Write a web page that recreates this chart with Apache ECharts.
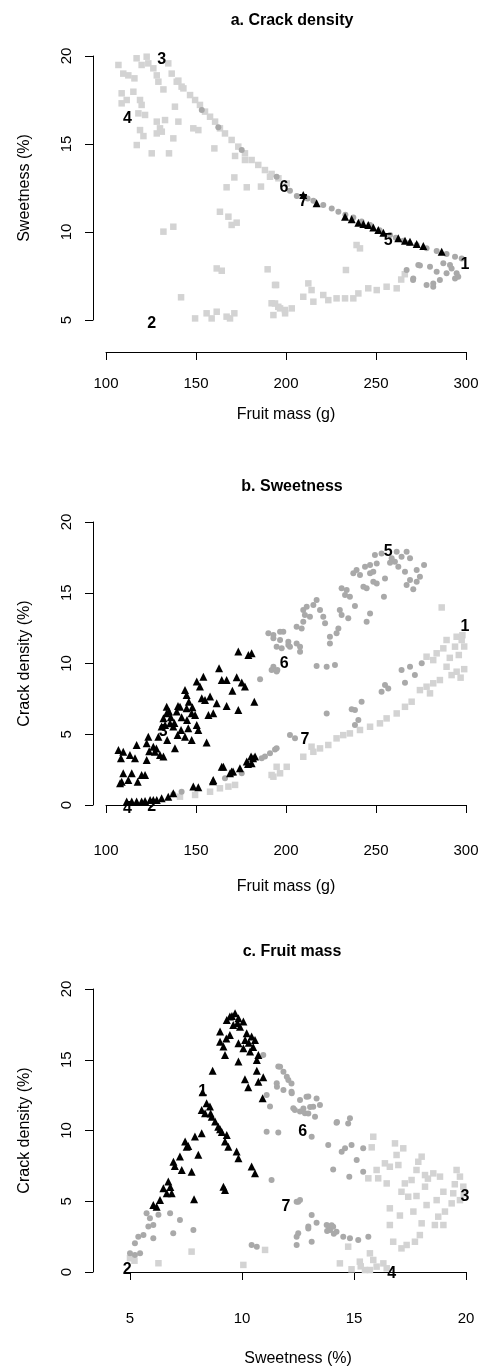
<!DOCTYPE html>
<html><head><meta charset="utf-8">
<script src="https://cdn.jsdelivr.net/npm/echarts@6/dist/echarts.min.js"></script>
<style>html,body{margin:0;padding:0;background:#fff}#c{width:481px;height:1366px}</style>
</head><body><div id="c"></div>
<script>
// ---------- Panel a: Sweetness (%) vs Fruit mass (g) ----------
const aSquares = [[106.9,19.49],[109.6,19.0],[112.4,18.9],[115.8,18.73],[117,19.87],[119.8,19.49],[122.6,19.96],[123.5,19.58],[126.3,19.3],[128.2,18.9],[129.1,18.54],[131.9,18.1],[134.6,19.58],[136.5,19.0],[140.2,18.6],[142,18.26],
[108.7,17.88],[111.5,17.5],[108.7,17.31],[115.2,17.97],[118.9,17.5],[119.8,17.22],[118,16.74],[121.7,16.65],[118.9,15.79],[120.8,15.45],[117.1,14.94],[128.2,16.27],[132.8,16.36],[130,15.89],[128.2,15.6],[131,15.7],[138.3,17.12],[140.2,16.27],[137.4,15.32],[148.5,15.89],[151.3,15.79],[125.4,14.47],[135,14.47],[160.2,14.75],[171.7,14.32],[177.2,14.09],[171.3,13.1],[167,12.54],[178.2,12.54],[186.1,12.58],[163.3,11.15],[168,10.87],[169.8,10.4],[172.6,10.53],[131.9,10.02],[137.4,10.3],[161.5,7.93],[164.3,7.8],[189.8,7.88],[194.5,6.99],[141.7,6.29],[149.5,5.09],[155.9,5.38],[158.7,5.09],[161.5,5.47],[167,5.19],[168.9,5.09],[171.3,5.38],[192,5.95],[193,5.28],[196.7,5.66],[199.5,5.38],[203.2,5.66],
[139.3,18.54],[143,18.16],[146.7,17.78],[149.5,17.5],[152.2,17.22],[155,16.84],[157.8,16.55],[160.6,16.27],[163.3,15.89],[166.1,15.6],[169.8,15.23],[173.5,14.85],[177.2,14.47],[180.9,14.09],[184.6,13.81],[188.3,13.52],[192,13.3],[195.8,13.05],[200.4,12.76],[191.1,13.14],
[193.9,6.99],[212.4,7.08],[214.2,6.7],[209.6,6.32],[215.2,6.04],[220.7,6.42],[223.5,6.13],[228.1,6.23],[232.8,6.23],[237.4,6.23],[240.2,6.51],[245.7,6.8],[250.4,6.7],[255.9,6.89],[261.5,6.8],[195.7,5.75],[199.4,5.57],[193.9,5.94],[239.2,9.26],[241.1,9.07],[233.3,7.84],[266,7.6],[264,7.3]];
const aCircles = [[153.2,16.93],[162.4,15.95],[175.4,14.66],[194.8,13.14],
[202.2,12.35],[206,12.05],[212,11.9],[215.2,11.78],[220.7,11.53],[225.4,11.34],[229.1,11.15],[233,10.98],[237.4,10.83],[242,10.6],[246.7,10.4],[252,10.1],[257.8,9.83],[261,9.68],[265.2,9.5],[268.5,9.38],[272.6,9.26],[278.1,9.07],[283.7,8.92],[289.2,8.75],[293.9,8.6],[297.6,8.5],
[273.5,8.12],[280,8.03],[267,7.84],[270.7,7.36],[278.1,6.99],[281.8,7.08],[285.5,7.27],[289.2,7.65],[292,7.93],[294.8,7.65],[293.9,7.36],[287.4,8.22],[283.7,7.74],[291.1,8.12],[281.8,6.89],[295.7,7.46],[270.6,7.27],[274.4,8.1]];
const aTriangles = [[209.6,12.1],[217,11.63],[232.8,10.87],[236.5,10.72],[240.2,10.53],[243,10.45],[245.7,10.4],[248.5,10.26],[251.3,10.11],[254.1,9.96],[262.4,9.64],[266.1,9.5],[268.9,9.45],[272.6,9.32],[276.3,9.2],[286.5,8.88]];
const aLabels = [["1",299.4,8.12],["2",125.4,4.81],["3",130.9,19.77],["4",111.9,16.46],["5",256.8,9.54],["6",198.9,12.54],["7",209.6,11.72]];

// ---------- Panel b: Crack density (%) vs Fruit mass (g) ----------
const bSquares = [[286.5,13.96],[294.8,11.89],[297.6,11.66],[289.2,11.66],[293.9,11.19],[287.4,11.07],[283.7,10.72],[278.1,10.48],[281.8,10.24],[289.2,9.77],[294.8,9.42],[292,9.18],[285.5,8.83],[281.8,8.6],[278.1,8.36],[280,7.89],[274.4,8.12],[269.8,7.3],[266.1,6.94],[261.5,6.47],[255.9,6.12],[252.2,5.77],[246.7,5.53],[241.1,5.3],[235.5,5.06],[231.8,4.94],[228.1,4.71],[223.5,4.24],[218.9,4.0],[214.2,4.12],[215.2,3.76],[209.6,3.41],[200.4,2.7],[194.8,2.7],[192,2.12],[196.7,2.24],[193,2.0],[171.7,1.42],[168,1.3],[163.3,1.18],[157.8,0.94],[149.5,0.71],[141.1,0.59],
[298,12.0],[299,11.2],[296,10.6],[291,10.4],[299,9.6],[297,9.0]];
const bCircles = [[249.4,17.66],[253.1,17.78],[261.5,17.9],[267,17.9],[264.2,17.55],[268.9,17.43],[258.7,17.43],[260.5,17.19],[257.8,17.12],[262.4,16.84],[266.1,16.49],[272.6,16.6],[276.7,16.96],[274.4,16.13],[268.9,15.9],[272.6,15.78],[267,15.54],[270.7,15.24],[255,16.01],[250.4,15.66],[248.5,15.78],[244.8,15.31],[243,15.43],[246.7,16.37],[250.4,17.07],[246.7,16.96],[243.9,16.84],[239.2,16.6],[237.4,16.37],[241.1,16.25],[248.5,16.49],[230.9,15.31],[233.7,15.19],[235.5,14.72],[232.8,14.84],[254.4,14.72],[246.7,13.54],[244.8,12.95],[238.3,14.06],[217,14.48],[215.2,14.13],[211.5,14.01],[209.6,13.78],[218.9,13.78],[220.7,13.3],[221.7,12.84],[213.3,13.3],[210.5,13.42],[209.6,12.95],[205.9,12.6],[208.7,12.48],[229.9,13.78],[230.9,13.42],[234.6,13.19],[229.1,12.48],[228.1,12.13],[224.4,11.89],[224.4,11.42],[198.5,12.25],[193,12.01],[196.7,11.66],[201.3,11.54],[205.9,11.42],[207.8,11.19],[202.2,11.19],[194.8,11.19],[207.8,10.83],[217,9.82],[222.6,9.77],[227.2,9.89],[195.2,9.54],[193,9.77],[190.2,12.13],[193,11.78],[196.7,12.25],[201.3,11.31],[197.6,11.07],[185.6,8.88],[192,9.54],[194.8,9.43],
[275.4,10.01],[268.9,9.77],[264.2,9.54],[271.6,9.18],[266.1,8.64],[255,8.48],[253.1,8.01],[256.8,8.24],[242,7.3],[236.5,6.76],[238.3,6.71],[222.6,6.47],[240.2,6.0],[238.3,5.65],[202.2,4.94],[205,4.71],[193.9,3.93],[191.1,3.65],[194.8,4.01],[188.3,3.42],[186.5,3.3],[166.1,1.89],[175.4,2.24],[137.4,0.76],[142,0.94]];
const bTriangles = [[173.5,10.84],[179.1,10.6],[180.9,10.72],[162.8,9.66],[154.1,9.07],[150.4,8.72],[164.3,8.84],[167,8.84],[172.6,9.02],[175.4,8.65],[177.2,8.37],[170.2,8.08],[182.4,7.3],[143.9,8.13],[144.8,7.78],[152.2,8.37],[153.2,7.54],[155,7.42],[157.8,7.66],[161.5,7.19],[167,7.0],[173.5,6.72],[159.6,6.48],[156.9,6.36],[149.5,6.36],[147.6,6.48],[144.8,6.83],[141.1,6.95],[139.3,6.6],[133.7,6.95],[133.7,6.48],[131.9,6.13],[135.6,5.77],[130.9,5.54],[132.8,5.66],[129.1,4.83],[137.4,5.54],[141.7,5.3],[145.7,5.42],[150.4,5.66],[151.3,5.3],[139.8,4.95],[143.9,4.83],[147.6,4.6],[155.9,4.41],[138.3,4.01],[123.5,4.83],[122.6,4.36],[117,4.24],[126.3,4.12],[127.2,3.77],[130,3.54],[131.9,3.42],[113.3,3.54],[116.1,3.3],[106.9,3.89],[109.6,3.77],[108.3,3.3],[122.6,3.18],[114.3,2.24],[109.6,2.24],[119.8,2.12],[121.7,2.12],[112.4,1.77],[108.7,1.65],[117.6,1.65],[107.8,1.53],
[136,6.2],[140,7.0],[146,7.3],[148,6.9],[135,6.6],[142,6.2],[145,6.0],[138,5.8],[128,4.0],[124,3.8],[134,4.6],
[180.6,3.42],[182.8,3.42],[178.2,3.07],[180.9,2.95],[165.2,2.71],[169.8,2.36],[174.4,2.59],[168.9,2.24],[159.6,1.77],[148.5,1.3],[151.3,1.25],[137.4,0.83],[134.6,0.59],[130.9,0.47],[128.2,0.36],[111.5,0.24],[114.3,0.24],[117,0.24],[119.8,0.24],[121.7,0.28],[124.5,0.36],[126.3,0.36],[164.3,2.71],[170.6,2.36],[178.9,2.9],[181.7,3.3],[159.4,1.67]];
const bLabels = [["1",299.4,12.6],["2",125.4,-0.12],["3",131.8,5.16],["4",111.9,-0.23],["5",256.8,17.9],["6",199,10.0],["7",210.5,4.64]];

// ---------- Panel c: Crack density (%) vs Sweetness (%) ----------
const cSquares = [[5.0,0.97],[6.27,0.62],[7.75,1.44],[11.03,1.56],[10.06,0.5],[15.86,9.56],[15.79,8.81],[16.83,9.09],[17.2,8.74],[16.9,8.27],[18.02,8.15],[17.87,7.79],[16.38,7.68],[16.6,7.44],[16.98,7.56],[16.01,7.21],[15.64,6.62],[16.08,6.62],[16.46,6.26],[17.27,6.26],[17.57,6.5],[17.79,7.21],[18.17,6.85],[18.54,6.97],[18.84,6.74],[19.58,7.21],[19.73,6.74],[19.88,6.03],[19.43,5.56],[19.73,5.08],[19.36,4.85],[19.06,4.27],[18.76,3.91],[18.61,3.32],[18.99,3.32],[18.17,6.03],[17.12,5.67],[17.42,5.32],[17.79,5.37],[18.24,4.73],[18.69,5.08],[18.99,5.67],[16.6,4.5],[17.05,3.99],[17.65,4.27],[18.02,3.44],[16.6,3.32],[17.94,2.61],[17.72,2.14],[17.35,1.91],[17.12,1.67],[16.75,2.14],[14.74,1.79],[14.37,0.61],[14.89,0.19],[15.26,0.73],[15.71,1.32],[15.86,0.85],[16.01,0.38],[15.71,0.14],[15.49,0.14],[16.31,0.61],[16.46,0.26],[19.5,6.2],[19.9,5.5],[18.3,6.6],[15.3,0.4],[5.2,0.8]];
const cCircles = [[10.95,15.34],[11.62,14.52],[11.85,14.16],[12.07,13.57],[11.55,13.34],[11.85,12.87],[12.22,12.63],[11.1,12.51],[11.25,11.69],[12.29,11.57],[12.59,11.34],[12.81,11.22],[12.96,12.4],[11.1,9.92],[11.62,9.85],[11.32,6.51],[12.44,4.97],[12.59,5.09],[12.44,2.5],[12.44,1.91],[12.96,3.21],[5.74,4.15],[5.89,3.8],[6.27,4.04],[6.79,4.15],[6.04,3.33],[5.82,3.21],[7.23,3.68],[6.93,2.74],[7.83,2.97],[5.37,2.5],[5.22,2.03],[5.6,2.62],[6.04,2.38],[5.0,1.32],[5.22,1.2],[5.45,1.32],[10.43,1.91],[10.66,1.79],
[12.21,13.33],[12.21,12.74],[12.88,12.39],[13.33,12.27],[13.48,11.8],[13.18,11.68],[12.74,11.56],[12.36,11.45],[12.96,11.21],[13.26,10.98],[14.22,10.55],[14.82,10.86],[14.74,10.5],[13.11,9.56],[13.85,8.97],[14.45,8.5],[14.89,8.97],[14.6,8.74],[15.41,8.74],[15.12,7.91],[14.07,7.25],[15.41,7.09],[14.79,6.74],[12.51,4.97],[13.11,4.03],[13.33,3.48],[12.96,3.08],[12.51,2.73],[13.11,2.14],[13.78,3.32],[14.07,3.2],[13.93,2.97],[14.22,2.85],[14.52,2.5],[14.82,2.38],[15.19,2.26],[15.64,2.5],[11.7,14.5],[12.0,13.8],[11.56,13.1],[12.59,12.15],[13.04,11.66],[14.24,10.6],[13.9,3.1],[14.0,3.3],[13.8,2.9],[14.1,2.7]];
const cTriangles = [[9.69,18.28],[9.46,18.05],[9.32,17.81],[9.84,17.93],[10.06,17.7],[9.61,17.46],[9.91,17.34],[9.02,16.99],[9.46,16.75],[10.21,16.87],[10.43,16.64],[10.58,16.4],[10.14,16.4],[9.02,16.28],[9.17,15.93],[9.84,16.16],[10.06,15.81],[10.36,15.58],[10.73,15.34],[10.66,14.99],[9.24,15.34],[9.84,14.87],[8.69,14.23],[10.66,14.23],[10.13,13.62],[10.95,13.76],[10.73,13.45],[10.28,13.05],[10.92,12.28],
[8.24,12.7],[8.42,11.92],[8.2,11.45],[8.57,11.69],[8.35,11.22],[8.65,10.98],[8.8,10.63],[8.94,10.27],[9.02,10.09],[9.32,9.69],[9.24,9.22],[9.39,8.86],[9.76,8.51],[9.84,8.04],[10.43,7.45],[10.58,6.98],[8.2,9.8],[7.9,9.57],[7.46,9.22],[7.53,8.86],[8.05,8.28],[7.23,8.16],[6.94,7.8],[7.31,7.21],[7.75,7.09],[9.17,6.03],[9.24,5.8],[6.71,6.39],[6.49,5.92],[6.64,5.56],[6.86,5.56],[6.34,5.09],[6.04,4.74],[6.19,4.62],[7.86,5.14],
[9.55,18.1],[9.8,17.6],[10.3,16.2],[9.3,16.5],[10.5,15.9],[7.6,8.9],[7.0,7.5],[6.8,6.0],[8.6,11.2],[9.1,9.9]];
const cLabels = [["1",8.24,12.75],["2",4.88,0.15],["3",19.95,5.32],["4",16.68,-0.1],["6",12.71,9.92],["7",11.96,4.62]];

// ---------- Axis ticks / titles ----------
const massTicks = {min:100, max:300, interval:50};
const pctTicks = {min:0, max:20, interval:5};
const sweetTicksA = {min:5, max:20, interval:5};
const sweetTicksC = {min:5, max:20, interval:5};
const panelTitles = ["a. Crack density","b. Sweetness","c. Fruit mass"];
const xNames = ["Fruit mass (g)","Fruit mass (g)","Sweetness (%)"];
const yNames = ["Sweetness (%)","Crack density (%)","Crack density (%)"];

const FONT = '"Liberation Sans", Arial, Helvetica, sans-serif';
const chart = echarts.init(document.getElementById('c'), null, {renderer:'canvas'});

const grids = [
  {left:106, top:56, width:360, height:264, outerBoundsMode:'none', containLabel:false},
  {left:106, top:522, width:360, height:283, outerBoundsMode:'none', containLabel:false},
  {left:130, top:989, width:336, height:283, outerBoundsMode:'none', containLabel:false}
];
const xScales = [massTicks, massTicks, sweetTicksC];
const yScales = [sweetTicksA, pctTicks, pctTicks];
const xOff = [32, 12, 11];
const yOff = [13, 13, 37];
const xLabelMargin = [24, 26, 28];
const xNameGap = [55, 62, 68];
const yNameGap = [60, 60, 60];
const titleTops = [8, 474, 939];

function xAxis(i){
  return Object.assign({gridIndex:i, type:'value', offset:xOff[i],
    axisLine:{show:true, lineStyle:{color:'#000', width:1}},
    axisTick:{show:true, length:8, lineStyle:{color:'#000'}},
    axisLabel:{fontSize:15, color:'#000', margin:xLabelMargin[i], fontFamily:FONT, hideOverlap:false},
    splitLine:{show:false},
    name:xNames[i], nameLocation:'middle', nameGap:xNameGap[i], nameMoveOverlap:false,
    nameTextStyle:{fontSize:16, color:'#000', fontFamily:FONT}}, xScales[i]);
}
function yAxis(i){
  return Object.assign({gridIndex:i, type:'value', offset:yOff[i],
    axisLine:{show:true, lineStyle:{color:'#000', width:1}},
    axisTick:{show:true, length:8, lineStyle:{color:'#000'}},
    axisLabel:{fontSize:15, color:'#000', margin:19, rotate:90, fontFamily:FONT, hideOverlap:false},
    splitLine:{show:false},
    name:yNames[i], nameLocation:'middle', nameGap:yNameGap[i], nameMoveOverlap:false,
    nameTextStyle:{fontSize:16, color:'#000', fontFamily:FONT}}, yScales[i]);
}
function pts(i, data, symbol, size, color, z){
  return {type:'scatter', xAxisIndex:i, yAxisIndex:i, data:data, symbol:symbol, symbolSize:size,
    itemStyle:{color:color, opacity:1}, clip:false, z:z, silent:true, animation:false};
}
function labs(i, list){
  return {type:'scatter', xAxisIndex:i, yAxisIndex:i, symbol:'circle', symbolSize:1, z:10, clip:false, silent:true, animation:false,
    itemStyle:{color:'#ffffff', opacity:1, borderWidth:0},
    label:{show:true, position:'inside', formatter:p=>p.name, color:'#000000', opacity:1,
      textBorderWidth:0, fontWeight:'bold', fontSize:16, fontFamily:FONT},
    data:list.map(d=>({name:d[0], value:[d[1],d[2]]}))};
}
const sets = [[aSquares,aCircles,aTriangles,aLabels],[bSquares,bCircles,bTriangles,bLabels],[cSquares,cCircles,cTriangles,cLabels]];
const series = [];
sets.forEach((s,i)=>{
  series.push(pts(i, s[0], 'rect', 6.5, '#d3d3d3', 2));
  series.push(pts(i, s[1], 'circle', 6, '#a9a9a9', 3));
  series.push(pts(i, s[2], 'triangle', 8, '#000000', 4));
  series.push(labs(i, s[3]));
});

chart.setOption({
  backgroundColor:'#fff',
  animation:false,
  title: panelTitles.map((t,i)=>({text:t, left:287, top:titleTops[i], textAlign:'center',
    textStyle:{fontSize:16, fontWeight:'bold', color:'#000', fontFamily:FONT}})),
  grid: grids,
  xAxis: [0,1,2].map(xAxis),
  yAxis: [0,1,2].map(yAxis),
  series: series
});
</script></body></html>
